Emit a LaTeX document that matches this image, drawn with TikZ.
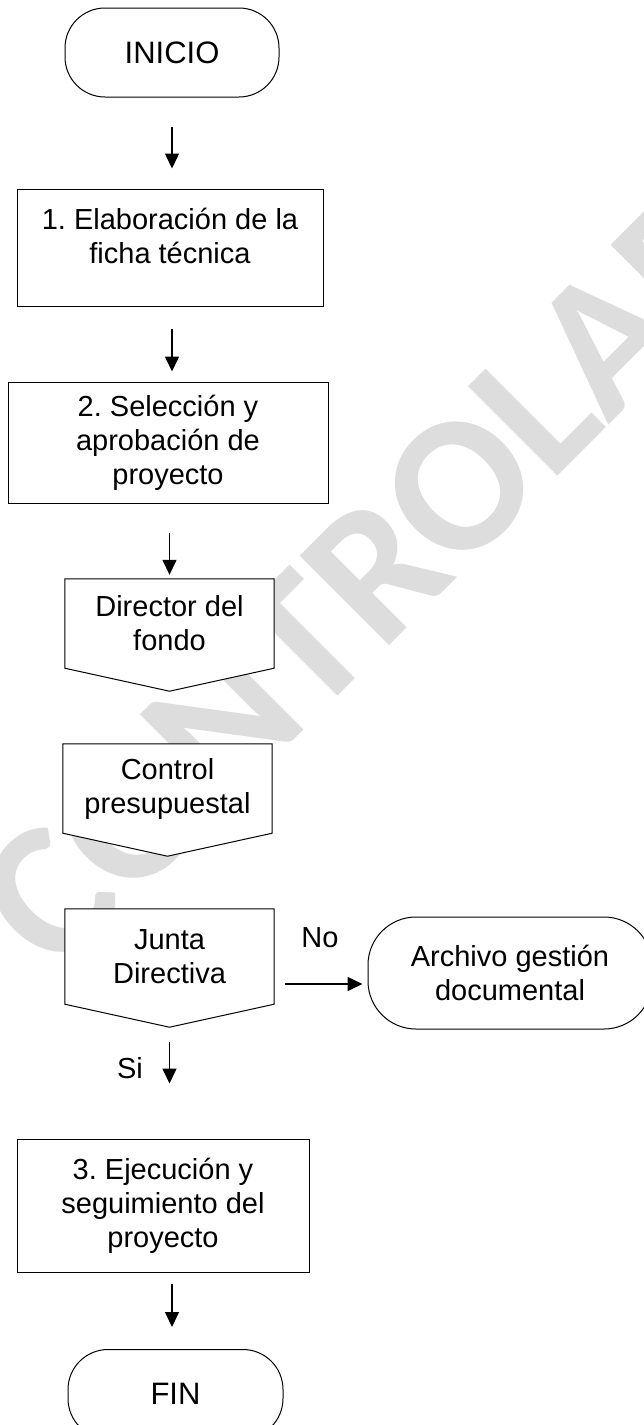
\documentclass[tikz,border=0pt]{standalone}
\usepackage{fontspec}
\setmainfont{Liberation Sans}
\newfontfamily\marcafont{Carlito}
\usetikzlibrary{arrows.meta}
\usetikzlibrary{backgrounds}
\usetikzlibrary{positioning}
\definecolor{marca}{HTML}{DDDDDD}
\frenchspacing

\begin{document}
\begin{tikzpicture}[x=1pt, y=-1pt,
        caja/.style={rectangle, draw=black, fill=white, line width=1pt, align=center, font=\fontsize{29}{34}\selectfont},
        terminal/.style={caja, rounded corners=40pt, minimum width=214pt, minimum height=89pt, font=\fontsize{31}{34}\selectfont},
        conector/.style={rectangle, align=center, font=\fontsize{29}{34}\selectfont, minimum width=209pt, minimum height=89pt},
        flecha/.style={-{Triangle[length=15pt, width=14pt]}, line width=1.5pt},
        etiqueta/.style={font=\fontsize{29}{34}\selectfont}]
        \useasboundingbox (0,0) rectangle (643,1425);

        \node[terminal] (inicio) at (172,52.5) {INICIO};
        \node[caja, minimum width=306pt, minimum height=117pt] (paso1) at (170,247.5) {1. Elaboración de la\\ficha técnica\rule[-24pt]{0pt}{0pt}};
        \node[caja, minimum width=320pt, minimum height=121pt] (paso2) at (168,442.5) {2. Selección y\\aprobación de\\proyecto};
        \node[conector] (director) at (169.5,623.5) {Director del\\fondo};
        \node[conector] (control) at (167.5,788.5) {Control\\presupuestal};
        \node[conector, minimum height=95pt] (junta) at (169.5,956.5) {Junta\\Directiva};
        \node[terminal, minimum width=284pt, minimum height=112pt, rounded corners=48pt, font=\fontsize{29}{34}\selectfont] (archivo) at (510,973) {Archivo gestión\\documental};
        \node[caja, minimum width=292pt, minimum height=133pt] (paso3) at (163,1205.5) {3. Ejecución y\\seguimiento del\\proyecto};
        \node[terminal, minimum width=215pt] (fin) at (175.5,1394) {FIN};

        \node[etiqueta] (no) at (320,938) {No};
        \node[etiqueta] (si) at (130,1068) {Si};
        \coordinate (nosalida) at (285,984);

        \draw[flecha, shorten <=29pt, shorten >=20pt] (inicio.south) -- (inicio.south |- paso1.north);
        \draw[flecha, shorten <=22pt, shorten >=10pt] (inicio.south |- paso1.south) -- (inicio.south |- paso2.north);
        \draw[flecha, shorten <=29pt, shorten >=4pt] (director.north |- paso2.south) -- (director.north);
        \draw[flecha, shorten <=38pt, shorten >=55pt] (junta.south) -- (junta.south |- paso3.north);
        \draw[flecha, shorten <=11pt, shorten >=22pt] (inicio.south |- paso3.south) -- (inicio.south |- fin.north);
        \draw[flecha, shorten >=5pt] (nosalida) -- (nosalida -| archivo.west);

        % marca de agua y conectores de pagina
        \begin{pgfonlayer}{background}
            \node[text=marca, rotate=45, font=\marcafont\bfseries\fontsize{195}{195}\selectfont] (marcaagua) at (420,525) {CONTROLADO};
            \foreach \n in {director,control,junta}
                \draw[line width=1pt, fill=white] (\n.north west) -- (\n.north east) -- (\n.south east) -- ([yshift=-23pt]\n.south) -- (\n.south west) -- cycle;
        \end{pgfonlayer}
    \end{tikzpicture}
\end{document}
